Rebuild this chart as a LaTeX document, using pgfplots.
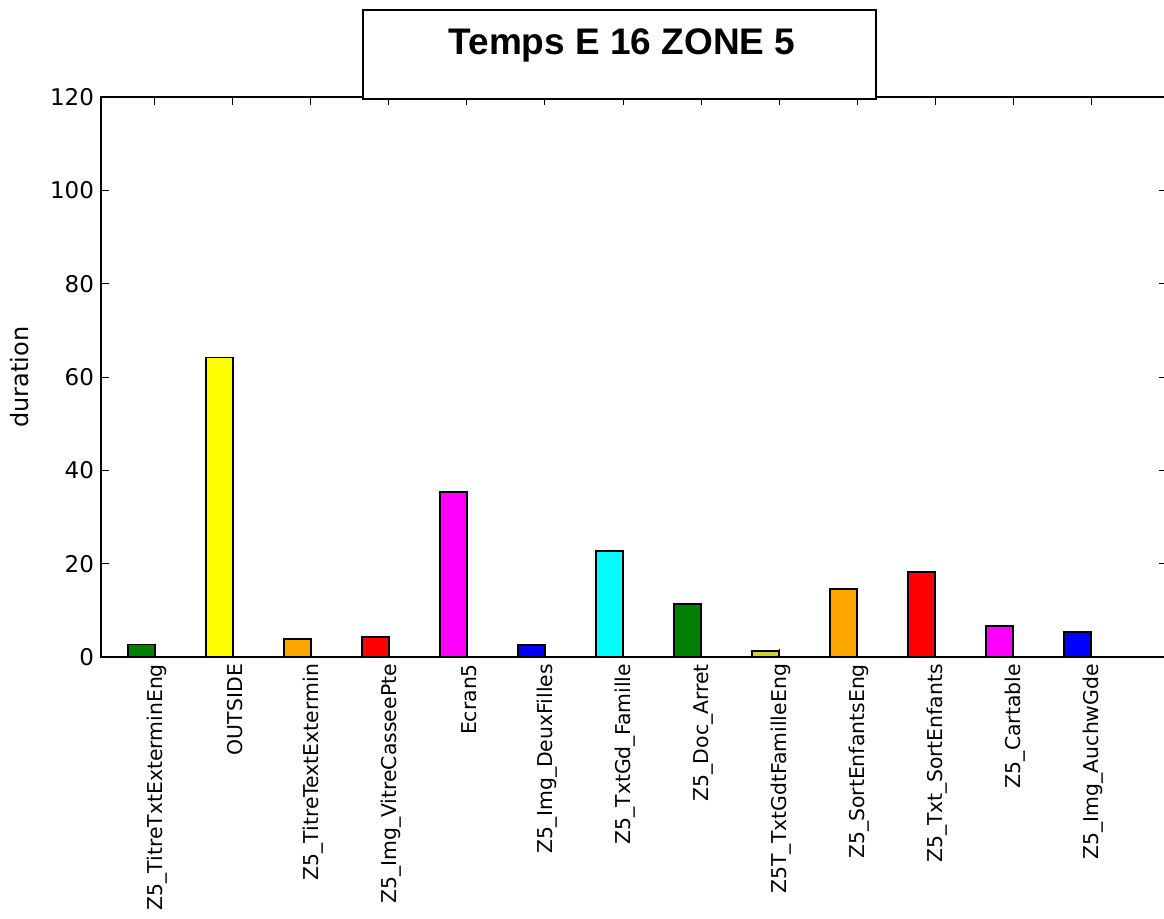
\documentclass[border=0pt]{standalone}
\usepackage{pgfplots}
\pgfplotsset{compat=1.18}
\usepackage{fontspec}
\setmainfont{DejaVu Sans}
\newfontfamily\titlefont{Liberation Sans}
\definecolor{mgreen}{rgb}{0,0.5,0}
\definecolor{myellow}{rgb}{1,1,0}
\definecolor{morange}{rgb}{1,0.647,0}
\definecolor{mred}{rgb}{1,0,0}
\definecolor{mmagenta}{rgb}{1,0,1}
\definecolor{mblue}{rgb}{0,0,1}
\definecolor{mcyan}{rgb}{0,1,1}
\definecolor{molive}{RGB}{205,210,50}
\begin{document}
\begin{tikzpicture}
\begin{axis}[
  scale only axis, width=533pt, height=280pt,
  at={(0pt,0pt)}, anchor=south west,
  xmin=-0.692, xmax=12.974, ymin=0, ymax=120,
  xtick={0,1,2,3,4,5,6,7,8,9,10,11,12},
  xticklabels={Z5\_TitreTxtExterminEng, OUTSIDE, Z5\_TitreTextExtermin, Z5\_Img\_VitreCasseePte, Ecran5, Z5\_Img\_DeuxFilles, Z5\_TxtGd\_Famille, Z5\_Doc\_Arret, Z5T\_TxtGdtFamilleEng, Z5\_SortEnfantsEng, Z5\_Txt\_SortEnfants, Z5\_Cartable, Z5\_Img\_AuchwGde},
  x tick label style={rotate=90, anchor=east, font=\fontsize{10.2}{12}\selectfont, yshift=-1pt},
  ytick={0,20,40,60,80,100,120},
  y tick label style={font=\fontsize{11.5}{13}\selectfont},
  /pgf/number format/assume math mode=true,
  tick align=inside, major tick length=4pt,
  tick style={black, line width=0.5pt},
  axis line style={line width=1pt},
  ylabel={duration},
  ylabel style={at={(axis description cs:-0.0762,0.5)}, anchor=center, font=\fontsize{12}{14}\selectfont},
]
\addplot[ybar, bar width=0.35, bar shift=0pt, fill=mgreen, draw=black, line width=0.9pt] coordinates {(-0.175,2.7)};
\addplot[ybar, bar width=0.35, bar shift=0pt, fill=myellow, draw=black, line width=0.9pt] coordinates {(0.825,64.2)};
\addplot[ybar, bar width=0.35, bar shift=0pt, fill=morange, draw=black, line width=0.9pt] coordinates {(1.825,3.9)};
\addplot[ybar, bar width=0.35, bar shift=0pt, fill=mred, draw=black, line width=0.9pt] coordinates {(2.825,4.3)};
\addplot[ybar, bar width=0.35, bar shift=0pt, fill=mmagenta, draw=black, line width=0.9pt] coordinates {(3.825,35.4)};
\addplot[ybar, bar width=0.35, bar shift=0pt, fill=mblue, draw=black, line width=0.9pt] coordinates {(4.825,2.6)};
\addplot[ybar, bar width=0.35, bar shift=0pt, fill=mcyan, draw=black, line width=0.9pt] coordinates {(5.825,22.8)};
\addplot[ybar, bar width=0.35, bar shift=0pt, fill=mgreen, draw=black, line width=0.9pt] coordinates {(6.825,11.4)};
\addplot[ybar, bar width=0.35, bar shift=0pt, fill=molive, draw=black, line width=0.9pt] coordinates {(7.825,1.35)};
\addplot[ybar, bar width=0.35, bar shift=0pt, fill=morange, draw=black, line width=0.9pt] coordinates {(8.825,14.6)};
\addplot[ybar, bar width=0.35, bar shift=0pt, fill=mred, draw=black, line width=0.9pt] coordinates {(9.825,18.3)};
\addplot[ybar, bar width=0.35, bar shift=0pt, fill=mmagenta, draw=black, line width=0.9pt] coordinates {(10.825,6.6)};
\addplot[ybar, bar width=0.35, bar shift=0pt, fill=mblue, draw=black, line width=0.9pt] coordinates {(11.825,5.3)};
\end{axis}
\draw[line width=1pt, fill=white] (131pt,279pt) rectangle (387.5pt,323.5pt);
\node[anchor=base, inner sep=0pt, font=\titlefont\bfseries\fontsize{18.5}{22}\selectfont] at (260.5pt,301.5pt) {Temps E 16 ZONE 5};
\pgfresetboundingbox
\path[use as bounding box] (-50.5pt,-130.5pt) rectangle (531.5pt,328.5pt);
\end{tikzpicture}
\end{document}
